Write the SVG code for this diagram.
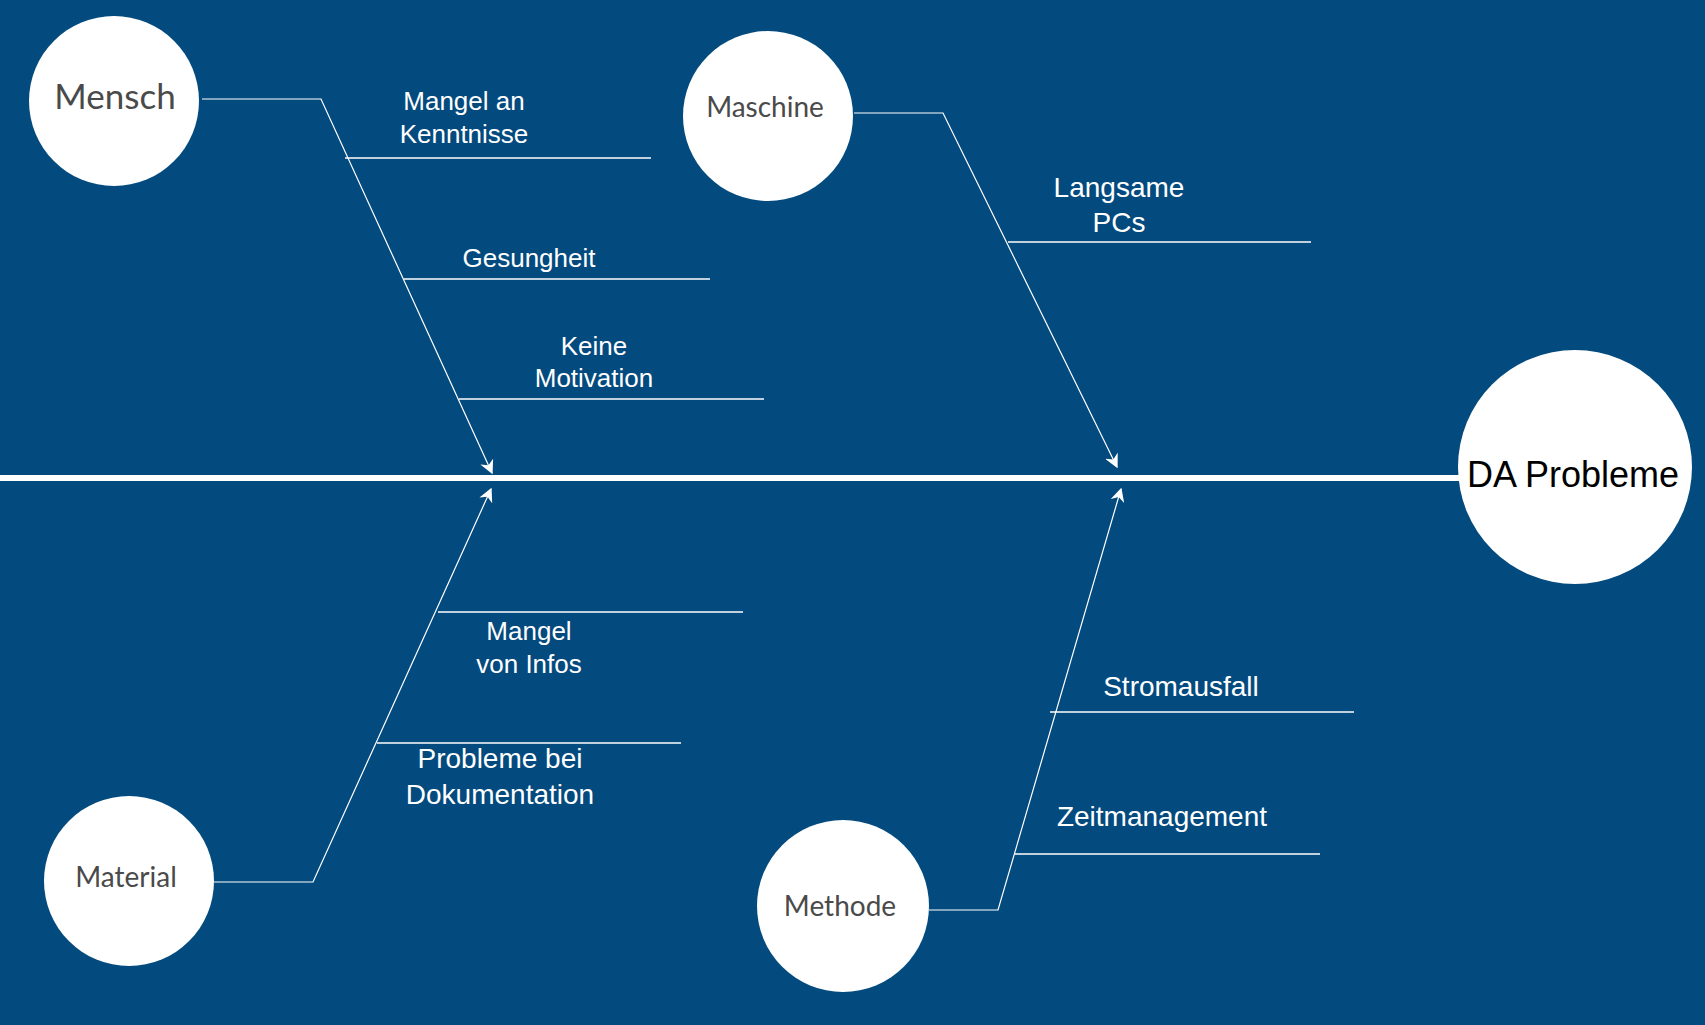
<svg xmlns="http://www.w3.org/2000/svg" width="1705" height="1025" viewBox="0 0 1705 1025">
<defs>
<marker id="arr" markerUnits="userSpaceOnUse" markerWidth="14" markerHeight="14" viewBox="0 0 10 10" refX="9" refY="5" orient="auto">
<path d="M0,0 L10,5 L0,10 L3,5 Z" fill="#ffffff"/>
</marker>
<style>
.bg{fill:#034a7e}
.node{fill:#ffffff}
.cat{font-family:Lato,"Open Sans","Liberation Sans",sans-serif;fill:#4a4a4a;text-anchor:middle}
.lbl{font-family:"Liberation Sans",Arial,sans-serif;fill:#ffffff;text-anchor:middle}
.bone{stroke:#ffffff;fill:none;stroke-width:1.2}
.rib{stroke:#ffffff;fill:none;stroke-width:1.5}
.spine{stroke:#ffffff;fill:none;stroke-width:6}
</style>
</defs>
<rect class="bg" x="0" y="0" width="1705" height="1025"/>
<g id="connectors">
<line class="spine" x1="0" y1="478" x2="1462" y2="478"/>
<polyline class="bone" points="202,99 321,99 492,473" marker-end="url(#arr)"/>
<polyline class="bone" points="854,113 943,113 1117,467" marker-end="url(#arr)"/>
<polyline class="bone" points="214,882 313,882 491,489" marker-end="url(#arr)"/>
<polyline class="bone" points="929,910 998,910 1121,489" marker-end="url(#arr)"/>
<line class="rib" x1="345" y1="158" x2="651" y2="158" stroke-width="2"/>
<line class="rib" x1="404" y1="279" x2="710" y2="279"/>
<line class="rib" x1="459" y1="399" x2="764" y2="399"/>
<line class="rib" x1="1008" y1="242" x2="1311" y2="242"/>
<line class="rib" x1="438" y1="612" x2="743" y2="612"/>
<line class="rib" x1="377" y1="743" x2="681" y2="743"/>
<line class="rib" x1="1050" y1="712" x2="1354" y2="712"/>
<line class="rib" x1="1015" y1="854" x2="1320" y2="854"/>
</g>
<g id="labels">
<text class="lbl" font-size="26" x="464" y="110">Mangel an</text>
<text class="lbl" font-size="26" x="464" y="143">Kenntnisse</text>
<text class="lbl" font-size="26" x="529" y="267">Gesungheit</text>
<text class="lbl" font-size="26" x="594" y="355">Keine</text>
<text class="lbl" font-size="26" x="594" y="387">Motivation</text>
<text class="lbl" font-size="28" x="1119" y="197">Langsame</text>
<text class="lbl" font-size="28" x="1119" y="232">PCs</text>
<text class="lbl" font-size="26" x="529" y="640">Mangel</text>
<text class="lbl" font-size="26" x="529" y="673">von Infos</text>
<text class="lbl" font-size="28" x="500" y="768">Probleme bei</text>
<text class="lbl" font-size="28" x="500" y="804">Dokumentation</text>
<text class="lbl" font-size="28" x="1181" y="696">Stromausfall</text>
<text class="lbl" font-size="28" x="1162" y="826">Zeitmanagement</text>
</g>
<g id="mensch">
<circle class="node" cx="114" cy="101" r="85"/>
<text class="cat" font-size="35" x="115" y="109">Mensch</text>
</g>
<g id="maschine">
<circle class="node" cx="768" cy="116" r="85"/>
<text class="cat" font-size="28" x="765" y="117">Maschine</text>
</g>
<g id="material">
<circle class="node" cx="129" cy="881" r="85"/>
<text class="cat" font-size="28" x="126" y="887">Material</text>
</g>
<g id="methode">
<circle class="node" cx="843" cy="906" r="86"/>
<text class="cat" font-size="28" x="840" y="916">Methode</text>
</g>
<g id="da-probleme">
<circle class="node" cx="1575" cy="467" r="117"/>
<text font-family="Liberation Sans, Arial, sans-serif" font-size="36" fill="#000000" text-anchor="middle" x="1573" y="487">DA Probleme</text>
</g>
</svg>
